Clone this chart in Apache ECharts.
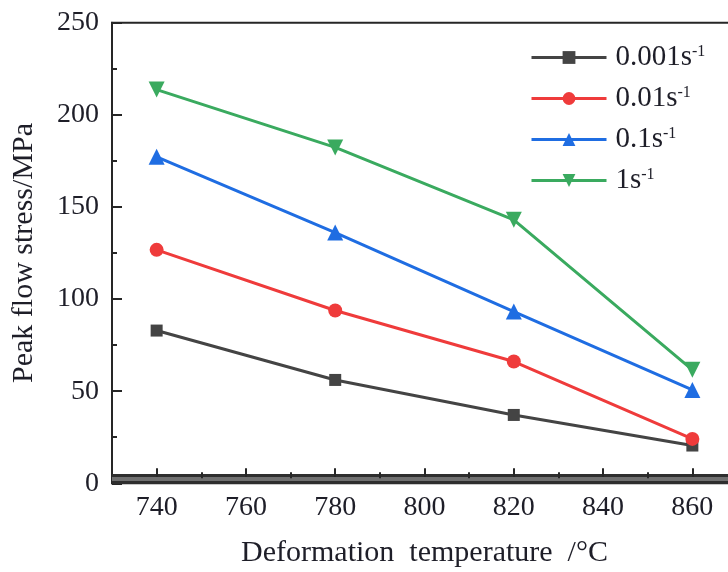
<!DOCTYPE html>
<html>
<head>
<meta charset="utf-8">
<script src="https://cdn.jsdelivr.net/npm/echarts@6/dist/echarts.min.js"></script>
<style>html,body{margin:0;padding:0;background:#fff}#c{width:728px;height:572px}</style>
</head>
<body>
<div id="c"></div>
<script>
var temps = [740, 780, 820, 860];
var s0001 = [82.9, 56.1, 37.1, 20.5];
var s001 = [126.7, 93.8, 66.1, 24.1];
var s01 = [177.2, 136.1, 93.2, 50.7];
var s1 = [213.7, 182.3, 143.0, 61.6];
var seriesNames = ['0.001', '0.01', '0.1', '1'];
var xMajorTicks = [740, 760, 780, 800, 820, 840, 860];
var xMinorTicks = [750, 770, 790, 810, 830, 850];

var FONT = '"Liberation Serif", "Times New Roman", serif';
var TXT = '#1e1e28';

function pairs(v) { return temps.map(function (t, i) { return [t, v[i]]; }); }

var colors = ['#444444', '#ef3b3b', '#1f6de2', '#3aaa5f'];
var symbols = ['rect', 'circle', 'triangle', 'path://M0,0 L10,0 L5,9 Z'];
var sizes = [12, 14, 16, 16];
var data = [s0001, s001, s01, s1];

var chart = echarts.init(document.getElementById('c'), null, {renderer: 'canvas'});
var baseX = {
  type: 'value', min: 730, max: 870, position: 'bottom', gridIndex: 0
};
chart.setOption({
  animation: false,
  backgroundColor: '#fff',
  grid: {
    left: 112, right: -9, top: 22.7, bottom: 88.7,
    containLabel: false, outerBoundsMode: 'none',
    show: true, borderColor: '#262626', borderWidth: 2, backgroundColor: 'transparent'
  },
  legend: {
    orient: 'vertical', left: 525, top: 38,
    itemWidth: 75, itemHeight: 16, itemGap: 12,
    lineStyle: {width: 3},
    textStyle: {
      fontFamily: FONT, color: TXT, padding: [0, 0, 0, 4],
      rich: {
        a: {fontFamily: FONT, fontSize: 29, color: TXT, lineHeight: 28},
        b: {fontFamily: FONT, fontSize: 16, color: TXT, verticalAlign: 'top', lineHeight: 28}
      }
    },
    formatter: function (name) { return '{a|' + name + 's}{b|-1}'; },
    data: seriesNames
  },
  xAxis: [
    Object.assign({}, baseX, {
      offset: -5, z: 1,
      name: 'Deformation  temperature  /\u00B0C', nameLocation: 'middle', nameGap: 60,
      nameTextStyle: {fontFamily: FONT, fontSize: 30, color: TXT},
      axisLine: {show: true, lineStyle: {color: '#2e2e2e', width: 10, cap: 'butt'}},
      axisTick: {show: true, inside: true, length: 10, customValues: xMajorTicks, lineStyle: {color: '#262626', width: 2}},
      axisLabel: {show: true, margin: 15, customValues: xMajorTicks, fontFamily: FONT, fontSize: 28, color: TXT},
      splitLine: {show: false}
    }),
    Object.assign({}, baseX, {
      offset: -5, z: 2,
      axisLine: {show: true, lineStyle: {color: '#707070', width: 4, cap: 'butt'}},
      axisTick: {show: true, inside: true, length: 6, customValues: xMinorTicks, lineStyle: {color: '#262626', width: 2}},
      axisLabel: {show: false},
      splitLine: {show: false}
    })
  ],
  yAxis: {
    type: 'value', min: 0, max: 250, interval: 50,
    name: 'Peak flow stress/MPa', nameLocation: 'middle', nameGap: 73,
    nameTextStyle: {fontFamily: FONT, fontSize: 30, color: TXT},
    axisLine: {show: true, lineStyle: {color: '#262626', width: 2}},
    axisTick: {show: true, inside: true, length: 10, lineStyle: {color: '#262626', width: 2}},
    minorTick: {show: true, splitNumber: 2, length: 5, lineStyle: {color: '#262626', width: 2}},
    axisLabel: {margin: 13, fontFamily: FONT, fontSize: 28, color: TXT},
    splitLine: {show: false}
  },
  series: data.map(function (d, i) {
    return {
      name: seriesNames[i], type: 'line', xAxisIndex: 0,
      data: pairs(d), symbol: symbols[i], symbolSize: sizes[i],
      lineStyle: {color: colors[i], width: 3},
      itemStyle: {color: colors[i]},
      showAllSymbol: true, z: 3 + i
    };
  })
});
</script>
</body>
</html>
